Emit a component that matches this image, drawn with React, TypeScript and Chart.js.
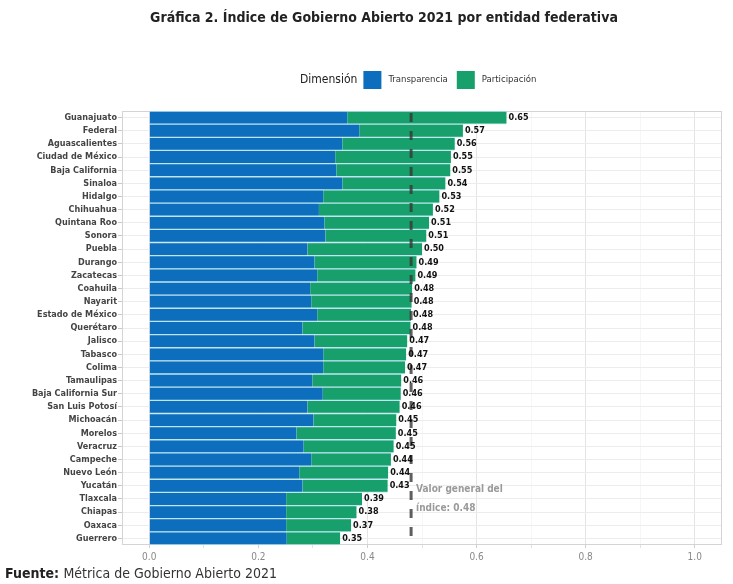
import { useEffect, useRef } from 'react';
import { Chart, registerables } from 'chart.js';
Chart.register(...registerables);

const entidades = [
  'Guanajuato', 'Federal', 'Aguascalientes', 'Ciudad de México', 'Baja California', 'Sinaloa',
  'Hidalgo', 'Chihuahua', 'Quintana Roo', 'Sonora', 'Puebla', 'Durango', 'Zacatecas', 'Coahuila',
  'Nayarit', 'Estado de México', 'Querétaro', 'Jalisco', 'Tabasco', 'Colima', 'Tamaulipas',
  'Baja California Sur', 'San Luis Potosí', 'Michoacán', 'Morelos', 'Veracruz', 'Campeche',
  'Nuevo León', 'Yucatán', 'Tlaxcala', 'Chiapas', 'Oaxaca', 'Guerrero',
];
const transparencia = [
  0.363, 0.385, 0.354, 0.341, 0.343, 0.354, 0.319, 0.311, 0.321, 0.323, 0.29, 0.303, 0.308, 0.295,
  0.297, 0.308, 0.281, 0.303, 0.319, 0.319, 0.299, 0.318, 0.29, 0.301, 0.27, 0.283, 0.297, 0.275,
  0.281, 0.251, 0.251, 0.251, 0.252,
];
const participacion = [
  0.292, 0.19, 0.206, 0.212, 0.209, 0.189, 0.213, 0.209, 0.192, 0.185, 0.21, 0.187, 0.18, 0.187,
  0.184, 0.172, 0.198, 0.17, 0.152, 0.15, 0.163, 0.143, 0.169, 0.152, 0.182, 0.165, 0.146, 0.163,
  0.156, 0.139, 0.129, 0.119, 0.098,
];
const indiceTotal = [
  0.65, 0.57, 0.56, 0.55, 0.55, 0.54, 0.53, 0.52, 0.51, 0.51, 0.5, 0.49, 0.49, 0.48, 0.48, 0.48,
  0.48, 0.47, 0.47, 0.47, 0.46, 0.46, 0.46, 0.45, 0.45, 0.45, 0.44, 0.44, 0.43, 0.39, 0.38, 0.37, 0.35,
];
const xTicks = [0, 0.1, 0.2, 0.3, 0.4, 0.5, 0.6, 0.7, 0.8, 0.9, 1.0];
const indiceGeneral = 0.48;

const titulo = 'Gráfica 2. Índice de Gobierno Abierto 2021 por entidad federativa';
const serieNombres = ['Transparencia', 'Participación'];
const colores = ['#0d6ebe', '#17a06c'];

const COND = '"Liberation Sans Narrow", "DejaVu Sans Condensed", Roboto, sans-serif';

const overlay = {
  id: 'overlay',
  beforeDatasetsDraw(chart: any) {
    const { ctx, chartArea: a } = chart;
    ctx.save();
    ctx.strokeStyle = '#d4d4d4';
    ctx.lineWidth = 1;
    ctx.strokeRect(a.left + 0.5, a.top + 0.5, a.width - 1, a.height - 1);
    ctx.restore();
  },
  afterDatasetsDraw(chart: any) {
    const { ctx, chartArea: a } = chart;
    const xs = chart.scales.x;
    const px = xs.getPixelForValue(indiceGeneral);
    ctx.save();
    ctx.setLineDash([9, 9]);
    ctx.strokeStyle = 'rgba(55,55,55,0.8)';
    ctx.lineWidth = 3;
    ctx.beginPath();
    ctx.moveTo(px, a.top + 2);
    ctx.lineTo(px, a.bottom);
    ctx.stroke();
    ctx.setLineDash([]);

    const meta = chart.getDatasetMeta(1);
    ctx.fillStyle = '#111';
    ctx.font = `bold 9px ${COND}`;
    ctx.textAlign = 'left';
    ctx.textBaseline = 'middle';
    meta.data.forEach((el: any, i: number) => {
      ctx.fillText(indiceTotal[i].toFixed(2), el.x + 2, el.y);
    });

    ctx.fillStyle = '#9a9a9a';
    ctx.font = `bold 10px ${COND}`;
    ctx.textBaseline = 'middle';
    ctx.fillText('Valor general del', px + 5, 489);
    ctx.fillText('índice: ' + indiceGeneral.toFixed(2), px + 5, 508);
    ctx.restore();
  },
  afterDraw(chart: any) {
    const { ctx } = chart;
    ctx.save();
    ctx.fillStyle = '#222';
    ctx.font = `bold 14px ${COND}`;
    ctx.textAlign = 'center';
    ctx.textBaseline = 'middle';
    ctx.fillText(titulo, 384, 18);

    ctx.textAlign = 'left';
    ctx.font = `12px ${COND}`;
    ctx.fillStyle = '#222';
    ctx.fillText('Dimensión', 300, 80);
    let x = 300 + ctx.measureText('Dimensión').width + 6;
    ctx.font = `9.5px ${COND}`;
    serieNombres.forEach((n, i) => {
      ctx.fillStyle = colores[i];
      ctx.fillRect(x, 71, 18, 18);
      ctx.fillStyle = '#333';
      ctx.fillText(n, x + 25, 80);
      x += 25 + ctx.measureText(n).width + 9;
    });

    ctx.font = `bold 14px ${COND}`;
    ctx.fillStyle = '#222';
    ctx.fillText('Fuente:', 5, 574);
    const w = ctx.measureText('Fuente: ').width;
    ctx.font = `14px ${COND}`;
    ctx.fillStyle = '#333';
    ctx.fillText('Métrica de Gobierno Abierto 2021', 5 + w, 574);
    ctx.restore();
  },
};

export default function App() {
  const ref = useRef<HTMLCanvasElement>(null);
  useEffect(() => {
    if (!ref.current) return;
    const chart = new Chart(ref.current, {
      type: 'bar',
      data: {
        labels: entidades,
        datasets: [
          {
            label: serieNombres[0],
            data: transparencia,
            backgroundColor: colores[0],
            borderColor: '#bfe6f0',
            borderWidth: { top: 1, bottom: 1, left: 0, right: 0 },
            borderSkipped: false,
            barPercentage: 1,
            categoryPercentage: 1,
          },
          {
            label: serieNombres[1],
            data: participacion,
            backgroundColor: colores[1],
            borderColor: '#bfe6f0',
            borderWidth: { top: 1, bottom: 1, left: 0, right: 0 },
            borderSkipped: false,
            barPercentage: 1,
            categoryPercentage: 1,
          },
        ],
      },
      options: {
        indexAxis: 'y',
        animation: false,
        responsive: false,
        maintainAspectRatio: false,
        layout: { padding: { top: 111, left: 0, right: 11, bottom: 17 } },
        plugins: { legend: { display: false }, title: { display: false }, tooltip: { enabled: false } },
        scales: {
          x: {
            stacked: true,
            min: -0.05,
            max: 1.05,
            afterBuildTicks: (s: any) => {
              s.ticks = xTicks.map((v) => ({ value: v }));
            },
            afterFit: (s: any) => {
              s.height = 22;
            },
            border: { display: false },
            grid: {
              color: (c: any) => (Math.round(c.tick?.value * 10) % 2 === 0 ? '#e4e4e4' : '#f0f0f0'),
              lineWidth: (c: any) => (Math.round(c.tick?.value * 10) % 2 === 0 ? 1 : 0.6),
              drawTicks: true,
              tickLength: 3,
              tickColor: '#cfcfcf',
            },
            ticks: {
              padding: 3,
              color: '#888',
              font: { family: COND, size: 10 },
              autoSkip: false,
              maxRotation: 0,
              callback: (v: any) => (Math.round(Number(v) * 10) % 2 === 0 ? Number(v).toFixed(1) : ''),
            },
          },
          y: {
            stacked: true,
            afterFit: (s: any) => {
              s.width = 122;
            },
            border: { display: false },
            grid: {
              offset: false,
              color: '#ececec',
              lineWidth: 1,
              drawTicks: true,
              tickLength: 4,
              tickColor: '#c8c8c8',
            },
            ticks: {
              padding: 1,
              color: '#444',
              autoSkip: false,
              font: { family: COND, size: 9, weight: 'bold' },
            },
          },
        },
      },
      plugins: [overlay],
    } as any);
    return () => chart.destroy();
  }, []);
  return (
    <div style={{ position: 'absolute', left: 0, top: 0, width: 733, height: 584, background: '#fff' }}>
      <canvas ref={ref} width={733} height={584} style={{ display: 'block' }} />
    </div>
  );
}
